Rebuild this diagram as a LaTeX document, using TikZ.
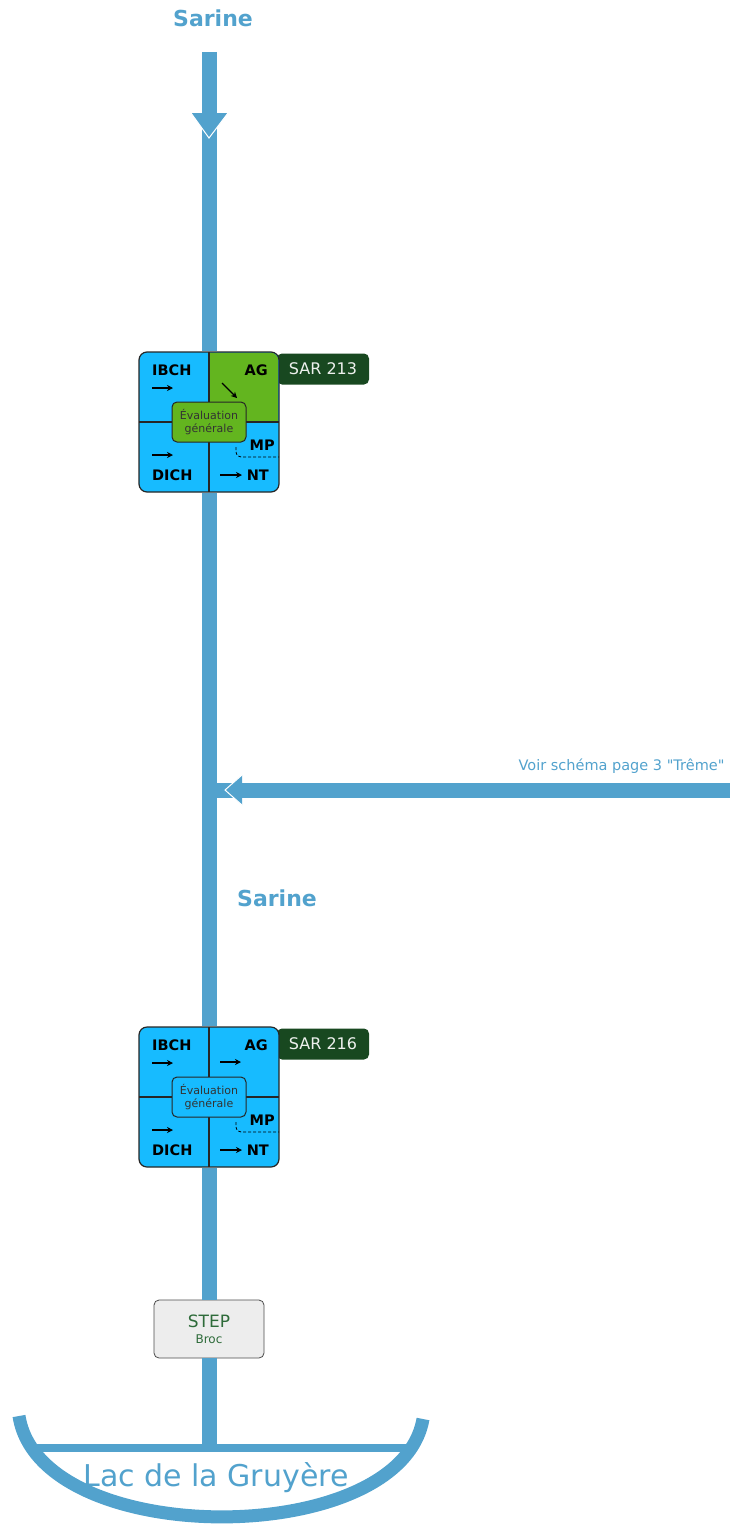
\documentclass[tikz,border=0pt]{standalone}
\usepackage{fontspec}
\setmainfont{DejaVu Sans}
\usetikzlibrary{arrows.meta}
\definecolor{riviere}{RGB}{82,162,205}
\definecolor{cyanbox}{RGB}{23,187,255}
\definecolor{agvert}{RGB}{99,181,31}
\definecolor{sarvert}{RGB}{24,72,32}
\definecolor{stepvert}{RGB}{46,107,58}

\begin{document}
\begin{tikzpicture}[
        x=1pt, y=-1pt,
        >={Stealth[length=6pt,width=6pt]},
        titre/.style={text=riviere, font=\fontsize{22}{26}\selectfont\bfseries},
        renvoi/.style={text=riviere, font=\fontsize{14.5}{17}\selectfont},
        river line/.style={draw=riviere, line width=15pt},
        lake line/.style={draw=riviere, line width=8pt},
        lake rim/.style={draw=riviere, line width=13pt},
        station/.style={
            rectangle,
            draw=black!85,
            line width=1.2pt,
            rounded corners=8pt,
            minimum width=140pt,
            minimum height=140pt,
            inner sep=0pt
        },
        divider/.style={draw=black!85, line width=1.1pt},
        evaluation/.style={
            rectangle,
            draw=black!85,
            line width=1pt,
            rounded corners=5pt,
            minimum width=74pt,
            minimum height=40pt,
            align=center,
            inner sep=1pt,
            text=black!80,
            font=\fontsize{11}{13}\selectfont
        },
        indice/.style={font=\fontsize{14.5}{16}\selectfont\bfseries, inner sep=0pt},
        tendance/.style={->, line width=1.3pt},
        sar/.style={
            rectangle,
            fill=sarvert,
            rounded corners=5pt,
            minimum width=92pt,
            minimum height=31pt,
            text=white!92!sarvert,
            font=\fontsize{16}{18}\selectfont
        },
        usine/.style={
            rectangle,
            draw=black!70,
            thick,
            rounded corners=5pt,
            fill=black!7,
            minimum width=110pt,
            minimum height=58pt,
            align=center,
            text=stepvert,
            font=\fontsize{17}{19}\selectfont
        }
    ]

    \useasboundingbox (0,0) rectangle (730,1528);

    \node[titre] (sarine1) at (213,18) {Sarine};
    \node[titre] (sarine2) at (277,898) {Sarine};
    \node[renvoi, anchor=east] (voir) at (728,766) {Voir schéma page 3 \textquotedbl Trême\textquotedbl};

    \coordinate (source) at (209,52);
    \coordinate (treme) at (730,790);
    \coordinate (confluence) at (209,790);
    \coordinate (embouchure) at (209,1448);
    \coordinate (lac-g) at (30,1448);
    \coordinate (lac-d) at (414,1448);
    \coordinate (rive-g) at (19,1416);
    \coordinate (rive-d) at (423,1419);

    % stations de mesure
    \foreach \st/\cy/\sar/\agfill/\ax/\ay/\bx/\by in {
            st1/422/SAR 213/agvert/13/-39/28/-24,
            st2/1097/SAR 216/cyanbox/11/-35/32/-35} {
        \begin{scope}[shift={(209,\cy)}]
            \node[sar] (\st-sar) at (114,-53) {\sar};
            \fill[cyanbox, rounded corners=8pt] (-70,-70) rectangle (70,70);
            \begin{scope}
                \clip[rounded corners=8.5pt] (-69.5,-69.5) rectangle (69.5,69.5);
                \fill[\agfill] (0,-70) rectangle (70,0);
            \end{scope}
            \draw[divider] (0,-70) -- (0,70) (-70,0) -- (70,0);
            \node[station] (\st) at (0,0) {};
            \draw[dashed, dash pattern=on 3pt off 2pt, line width=0.8pt] (27,25) .. controls (27,35) .. (38,35) -- (70,35);
            \node[evaluation, fill=\agfill] (\st-eval) at (0,0) {Évaluation\\générale};
            \node[indice, anchor=west] (\st-ibch) at (-57,-52) {IBCH};
            \node[indice, anchor=east] (\st-ag) at (59,-52) {AG};
            \node[indice, anchor=west] (\st-dich) at (-57,53) {DICH};
            \node[indice, anchor=east] (\st-nt) at (60,53) {NT};
            \node[indice, anchor=east] (\st-mp) at (66,23) {MP};
            \draw[tendance] (-57,-34) -- (-36,-34);
            \draw[tendance] (\ax,\ay) -- (\bx,\by);
            \draw[tendance] (-57,33) -- (-36,33);
            \draw[tendance] (11,53) -- (33,53);
        \end{scope}
    }

    \node[usine] (step) at (209,1329) {STEP\\[-3pt]{\fontsize{12}{14}\selectfont Broc}};

    % cours d'eau
    \draw[river line] (source) -- (st1);
    \draw[river line] (st1) -- (st2);
    \draw[river line] (st2) -- (step);
    \draw[river line] (step) -- (embouchure);
    \draw[river line] (treme) -- (confluence);

    \fill[riviere] (191,113) -- (209,138) -- (228,113) -- cycle;
    \draw[white, line width=1pt] (191,113) -- (209,138) -- (228,113);
    \fill[riviere] (242,775) -- (225,790) -- (242,805) -- cycle;
    \draw[white, line width=1pt] (242,775) -- (225,790) -- (242,805);

    % lac
    \draw[lake line] (lac-g) -- (lac-d);
    \draw[lake rim] (rive-g) .. controls (40,1550) and (400,1550) .. (rive-d);
    \node[text=riviere, font=\fontsize{30}{34}\selectfont] (lac) at (216,1478) {Lac de la Gruyère};

\end{tikzpicture}
\end{document}
